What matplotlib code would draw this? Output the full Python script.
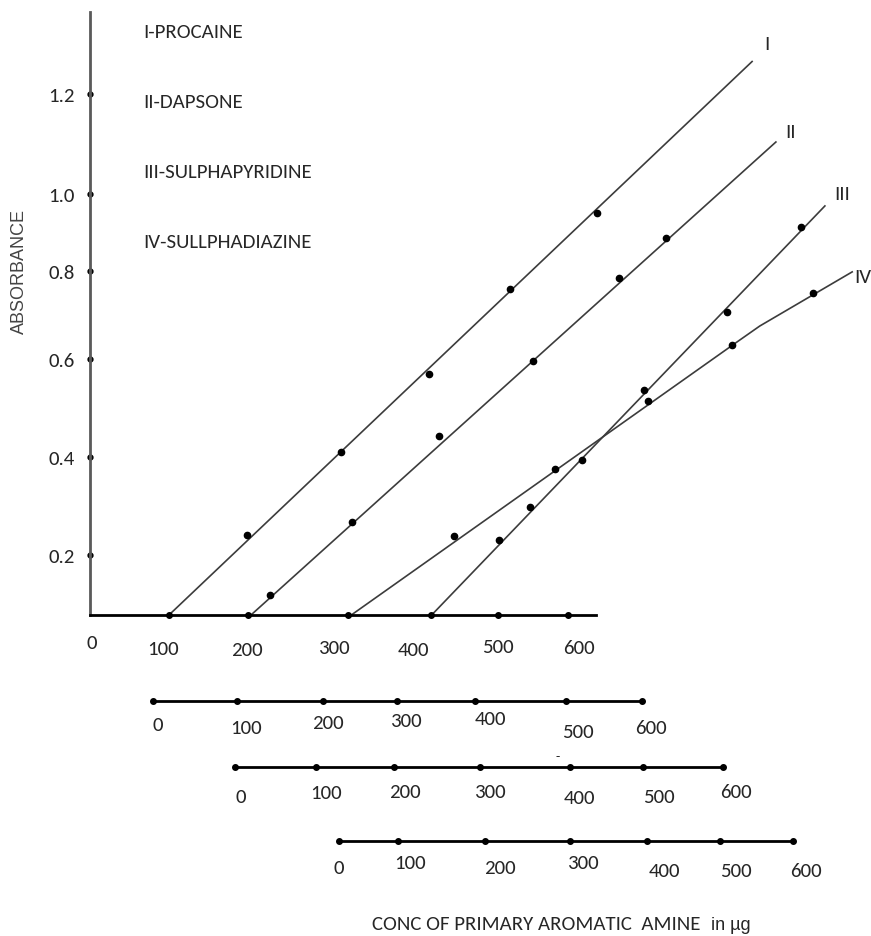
import numpy as np
import matplotlib
matplotlib.use('Agg')
import matplotlib.pyplot as plt
from matplotlib.transforms import ScaledTranslation

plt.rcParams['font.family'] = ['Carlito', 'Liberation Sans Narrow', 'DejaVu Sans']

# ---- data ----
conc_ticks = [0, 100, 200, 300, 400, 500, 600]
conc_labels = ['0', '100', '200', '300', '400', '500', '600']
abs_ticks = [0.2, 0.4, 0.6, 0.8, 1.0, 1.2]
abs_labels = ['0.2', '0.4', '0.6', '0.8', '1.0', '1.2']

drug_names = ['I-PROCAINE', 'II-DAPSONE', 'III-SULPHAPYRIDINE', 'IV-SULLPHADIAZINE']
curve_tags = ['I', 'II', 'III', 'IV']

# measured points (conc in ug on the main scale, absorbance)
procaine_conc = [199, 293, 398, 517, 641]
procaine_abs = [0.24, 0.41, 0.57, 0.76, 0.95]
dapsone_conc = [222, 305, 412, 550, 673, 740]
dapsone_abs = [0.067, 0.267, 0.443, 0.596, 0.784, 0.886]
sulphapyridine_conc = [501, 546, 620, 709, 827, 933]
sulphapyridine_abs = [0.231, 0.298, 0.394, 0.537, 0.707, 0.914]
sulphadiazine_conc = [434, 581, 714, 834, 950]
sulphadiazine_abs = [0.239, 0.376, 0.514, 0.632, 0.750]

# hand-drawn calibration lines
procaine_fit_conc = [100, 863]
procaine_fit_abs = [0.0, 1.265]
dapsone_fit_conc = [203, 897]
dapsone_fit_abs = [0.0, 1.104]
sulphapyridine_fit_conc = [401, 967]
sulphapyridine_fit_abs = [0.0, 0.969]
sulphadiazine_fit_conc = [304, 839, 874, 1006]
sulphadiazine_fit_abs = [0.0, 0.636, 0.675, 0.798]

# ---- layout (pixels of the 871x937 canvas) ----
W, H = 871, 937
main_x_px = [90, 169, 248, 348, 431, 498, 568]     # where the drawn x ticks sit
main_y_h = [0, 60, 158, 256, 344, 421, 521]        # height of y ticks above the x axis
axis_y_px, axis_top_px, axis_end_px = 616, 13, 596
main_lbl_dx = [2, -6, -1, -14, -18, 0, 11]
main_lbl_dy = [5, -1, -2, 0, -2, 1, 0]
row_px = [[153, 237, 323, 397, 475, 566, 642],
          [235, 316, 394, 480, 570, 643, 723],
          [339, 398, 485, 570, 647, 720, 793]]
row_y_px = [702, 768, 842]
row_lbl_dx = [[5, 9, 5, 9, 15, 12, 9],
              [6, 10, 11, 10, 9, 16, 13],
              [0, 12, 15, 13, 17, 16, 13]]
row_lbl_dy = [[0, -3, 2, 4, 6, -7, -3],
              [-3, 1, 2, 2, -4, -3, 2],
              [-1, 4, -1, 4, -4, -4, -4]]
row_label_pad = [11, 13, 12.5]

ink = '#262626'
line_col = '#3c3c3c'
fs = 15


def piecewise(vals, pos):
    # hand-drawn axes are not evenly spaced: linear between the drawn ticks
    vals = np.asarray(vals, float)
    pos = np.asarray(pos, float)

    def interp(v, a, b):
        v = np.asarray(v, float)
        out = np.interp(v, a, b)
        lo = (b[1] - b[0]) / (a[1] - a[0])
        hi = (b[-1] - b[-2]) / (a[-1] - a[-2])
        out = np.where(v < a[0], b[0] + (v - a[0]) * lo, out)
        out = np.where(v > a[-1], b[-1] + (v - a[-1]) * hi, out)
        return out

    return (lambda v: interp(v, vals, pos)), (lambda p: interp(p, pos, vals))


def nudge(labels, dxs, dys):
    for lbl, dx, dy in zip(labels, dxs, dys):
        lbl.set_transform(lbl.get_transform() + ScaledTranslation(dx / 100, dy / 100, fig.dpi_scale_trans))


fig = plt.figure(figsize=(W / 100, H / 100), dpi=100)

# ---- main graph ----
ax = fig.add_axes([90 / W, 1 - axis_y_px / H, (W - 90) / W, (axis_y_px - axis_top_px) / H])
ax.patch.set_visible(False)
fx, ix = piecewise(conc_ticks, main_x_px)
fy, iy = piecewise([0] + abs_ticks, main_y_h)
ax.set_xscale('function', functions=(fx, ix))
ax.set_yscale('function', functions=(fy, iy))

fits = [(procaine_fit_conc, procaine_fit_abs), (dapsone_fit_conc, dapsone_fit_abs),
        (sulphapyridine_fit_conc, sulphapyridine_fit_abs), (sulphadiazine_fit_conc, sulphadiazine_fit_abs)]
points = [(procaine_conc, procaine_abs), (dapsone_conc, dapsone_abs),
          (sulphapyridine_conc, sulphapyridine_abs), (sulphadiazine_conc, sulphadiazine_abs)]
tag_offsets = [(15, 18), (15, 10), (17, 12), (2, -5)]
tag_ha = ['center', 'center', 'center', 'left']

for (fc, fa), (pc, pa), tag, off, ha in zip(fits, points, curve_tags, tag_offsets, tag_ha):
    ax.plot(fc, fa, color=line_col, lw=1.2, clip_on=False)
    ax.plot(pc, pa, 'o', color='black', ms=4.5, clip_on=False)
    ax.annotate(tag, xy=(fc[-1], fa[-1]), xytext=off, textcoords='offset pixels',
                ha=ha, va='center', fontsize=fs, color=ink)

# tick dots on the axes
ax.plot(conc_ticks[1:], [0] * 6, 'o', color='black', ms=4, clip_on=False)
ax.plot([0] * len(abs_ticks), abs_ticks, 'o', color='black', ms=3.5, clip_on=False)

ax.set_xlim(0, float(ix(W)))
ax.set_ylim(0, float(iy(axis_y_px - axis_top_px)))
for s in ['top', 'right']:
    ax.spines[s].set_visible(False)
ax.spines['left'].set_color('#5a5a5a')
ax.spines['left'].set_linewidth(2)
ax.spines['bottom'].set_color('black')
ax.spines['bottom'].set_linewidth(2)
ax.spines['bottom'].set_bounds(0, float(ix(axis_end_px)))

ax.set_xticks(conc_ticks, conc_labels)
ax.set_yticks(abs_ticks, abs_labels)
ax.tick_params(axis='x', length=0, pad=17, labelsize=fs, labelcolor=ink)
ax.tick_params(axis='y', length=0, pad=11, labelsize=fs, labelcolor=ink)
nudge(ax.get_xticklabels(), main_lbl_dx, main_lbl_dy)

# ---- three shifted concentration scales below ----
for px, ry, dxs, dys, pad in zip(row_px, row_y_px, row_lbl_dx, row_lbl_dy, row_label_pad):
    rax = fig.add_axes([0, 1 - ry / H, 1, 0.02])
    rax.patch.set_visible(False)
    fr, ir = piecewise(conc_ticks, px)
    rax.set_xscale('function', functions=(fr, ir))
    rax.plot(conc_ticks, [0] * len(conc_ticks), 'o', color='black', ms=4, clip_on=False)
    rax.set_xlim(float(ir(0)), float(ir(W)))
    rax.set_ylim(0, 1)
    for s in ['top', 'right', 'left']:
        rax.spines[s].set_visible(False)
    rax.spines['bottom'].set_linewidth(2)
    rax.spines['bottom'].set_bounds(0, 600)
    rax.set_yticks([])
    rax.set_xticks(conc_ticks, conc_labels)
    rax.tick_params(axis='x', length=0, pad=pad, labelsize=fs, labelcolor=ink)
    nudge(rax.get_xticklabels(), dxs, dys)

# ---- texts ----
for name, yy in zip(drug_names, [32, 103, 172, 242]):
    fig.text(143 / W, 1 - yy / H, name, fontsize=fs, color=ink, va='center', ha='left')

fig.text(19 / W, 1 - 272 / H, 'ABSORBANCE', rotation=90, fontsize=13, color='#444444',
         family='Liberation Sans', ha='center', va='center')
fig.text(372 / W, 1 - 930 / H, 'CONC OF PRIMARY AROMATIC  AMINE', fontsize=fs, color=ink,
         ha='left', va='baseline')
fig.text(711 / W, 1 - 930 / H, 'in µg', fontsize=13, color=ink, family='Liberation Sans',
         ha='left', va='baseline')
fig.text(558 / W, 1 - 757 / H, '-', fontsize=10, color=ink, ha='center', va='center')

fig.savefig('out.png', dpi=100)
